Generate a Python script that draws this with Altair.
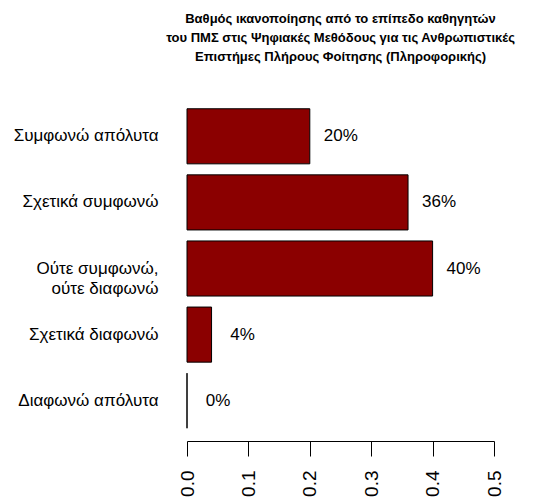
import altair as alt
import pandas as pd

categories = ["Συμφωνώ απόλυτα", "Σχετικά συμφωνώ", "Ούτε συμφωνώ,|ούτε διαφωνώ", "Σχετικά διαφωνώ", "Διαφωνώ απόλυτα"]
values = [0.20, 0.36, 0.40, 0.04, 0.00]
labels = ["20%", "36%", "40%", "4%", "0%"]
x_ticks = [0.0, 0.1, 0.2, 0.3, 0.4, 0.5]
title_lines = [
    "Βαθμός ικανοποίησης από το επίπεδο καθηγητών",
    "του ΠΜΣ στις Ψηφιακές Μεθόδους για τις Ανθρωπιστικές",
    "Επιστήμες Πλήρους Φοίτησης (Πληροφορικής)",
]

df = pd.DataFrame({"cat": categories, "value": values, "label": labels})

FONT = "Liberation Sans"

y_enc = alt.Y(
    "cat:N",
    sort=None,
    title=None,
    scale=alt.Scale(paddingInner=0.1667, paddingOuter=0.193),
    axis=alt.Axis(
        domain=False,
        ticks=False,
        labelPadding=29,
        labelFontSize=17,
        labelFont=FONT,
        labelColor="#000000",
        labelLineHeight=20,
        labelExpr="split(datum.label, '|')",
        labelLimit=300,
    ),
)

x_enc = alt.X(
    "value:Q",
    title=None,
    scale=alt.Scale(domain=[0, 0.5], nice=False, zero=True),
    axis=alt.Axis(
        values=x_ticks,
        format=".1f",
        grid=False,
        domainColor="#000000",
        domainWidth=1,
        tickColor="#000000",
        tickSize=15,
        labelAngle=270,
        labelAlign="right",
        labelBaseline="middle",
        labelPadding=14,
        labelFontSize=19,
        labelFont=FONT,
        labelColor="#000000",
        labelFlush=False,
        labelOverlap=False,
        offset=0,
    ),
)

bars = alt.Chart(df).mark_bar(
    color="#8B0000", stroke="#000000", strokeWidth=1
).encode(x=x_enc, y=y_enc)

texts = alt.Chart(df).mark_text(
    align="center", baseline="middle", dx=31, fontSize=17, font=FONT, color="#000000"
).encode(x="value:Q", y=alt.Y("cat:N", sort=None), text="label:N")

chart = (
    alt.layer(bars, texts)
    .properties(
        width=307,
        height=345,
        title=alt.TitleParams(
            text=title_lines,
            font=FONT,
            fontSize=13,
            fontWeight="bold",
            color="#000000",
            anchor="middle",
            lineHeight=19,
            offset=32,
        ),
        autosize=alt.AutoSizeParams(type="none"),
        padding={"left": 179, "top": 88, "right": 40, "bottom": 58},
    )
    .configure_view(stroke=None)
)

chart.save("out.html", embed_options={"renderer": "svg", "actions": False})
